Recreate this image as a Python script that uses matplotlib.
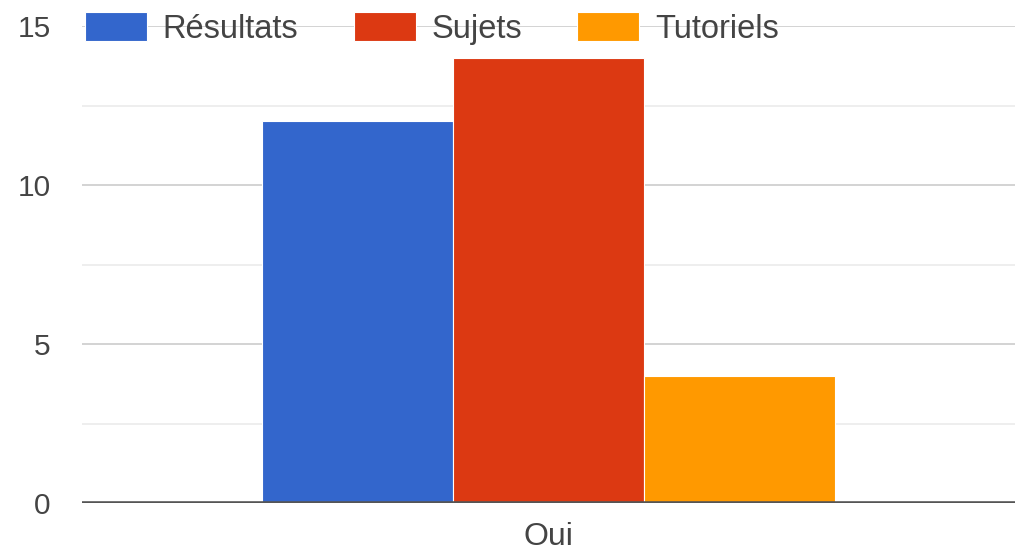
import matplotlib
matplotlib.use("Agg")
import matplotlib.pyplot as plt
import numpy as np

categories = ["Oui"]
series_names = ["Résultats", "Sujets", "Tutoriels"]
series_values = [[12], [14], [4]]
colors = ["#3366cc", "#dc3912", "#ff9900"]
y_ticks = [0, 5, 10, 15]
y_minor = [2.5, 7.5, 12.5]

plt.rcParams['font.family'] = ['Liberation Sans', 'DejaVu Sans']

fig = plt.figure(figsize=(10.15, 5.55), dpi=100)
ax = fig.add_axes([82/1015, 1-503/555, 1-82/1015, (503-26)/555])

x = np.arange(len(categories))
n = len(series_names)
width = 0.2044
handles = []
for i, (name, vals, c) in enumerate(zip(series_names, series_values, colors)):
    off = (i - (n-1)/2) * width
    b = ax.bar(x + off, vals, width, color=c, edgecolor="white", linewidth=0.8,
               label=name, zorder=3)
    handles.append(b)

ax.set_xlim(-0.5, 0.5)
ax.set_ylim(0, 15)
ax.set_yticks(y_ticks)
ax.set_yticks(y_minor, minor=True)
ax.set_xticks(x)
ax.set_xticklabels(categories)
ax.grid(axis='y', which='major', color='#cccccc', linewidth=1.2, zorder=0)
ax.grid(axis='y', which='minor', color='#ebebeb', linewidth=1.2, zorder=0)
ax.axhline(0, color='#555555', linewidth=2.6, zorder=4)
for s in ax.spines.values():
    s.set_visible(False)
ax.tick_params(axis='y', which='both', length=0, labelsize=21.5, colors='#444444', pad=22.5)
ax.tick_params(axis='x', which='both', length=0, labelsize=23, colors='#444444', pad=14)

leg = ax.legend(handles=handles, ncol=3, frameon=False, fontsize=23.5,
                loc='center left', bbox_to_anchor=(0.003, 0.995),
                handlelength=1.9, handleheight=1.0, handletextpad=0.49,
                columnspacing=1.69, borderaxespad=0, borderpad=0,
                labelcolor='#444444')

fig.savefig("out.png", dpi=100)
